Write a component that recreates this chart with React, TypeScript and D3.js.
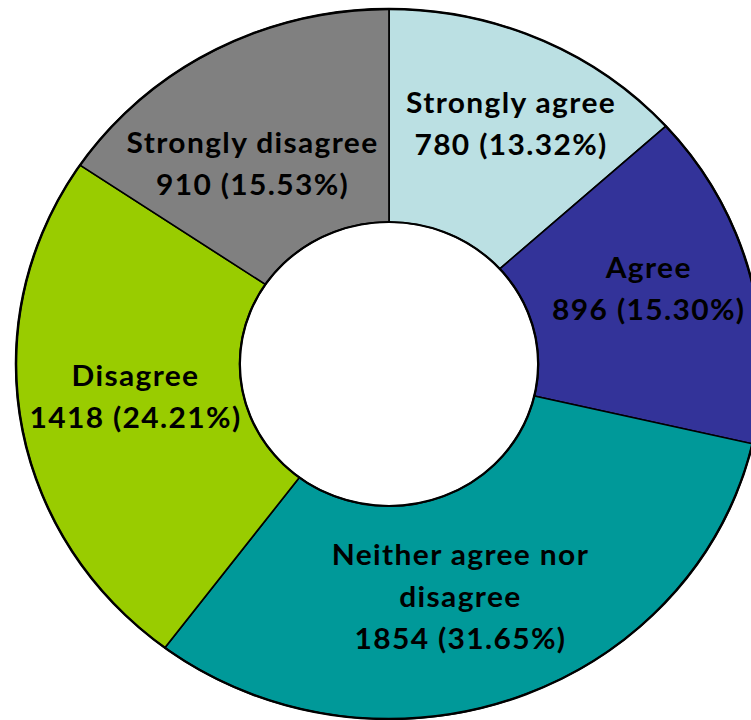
import React from "react";
import * as d3 from "d3";

const categories = ["Strongly agree", "Agree", "Neither agree nor disagree", "Disagree", "Strongly disagree"];
const values = [780, 896, 1854, 1418, 910];
const percents = ["13.32%", "15.30%", "31.65%", "24.21%", "15.53%"];
const labelLines = [
  ["Strongly agree"],
  ["Agree"],
  ["Neither agree nor", "disagree"],
  ["Disagree"],
  ["Strongly disagree"],
];
const colors = ["#BBE0E3", "#333399", "#009999", "#99CC00", "#808080"];

// label nudges (screen px) from the ring's mid-radius centroid
const labelNudge: [number, number][] = [
  [16, -13],
  [7, -13],
  [-18, 0],
  [4, -8],
  [-14, 20],
];

const W = 751;
const H = 720;
const CX = 389;
const CY = 364;
const R = 355;
const R_IN = 142;
const SX = 1.0507;
const FONT = 28.5;
const LINE_H = 42;

export default function App() {
  const pie = d3.pie<number>().sort(null).value((d) => d)(values);
  const arc = d3.arc<d3.PieArcDatum<number>>().innerRadius(R_IN).outerRadius(R);
  const labelArc = d3
    .arc<d3.PieArcDatum<number>>()
    .innerRadius(R * 0.7)
    .outerRadius(R * 0.7);

  return (
    <svg
      width={W}
      height={H}
      style={{ position: "absolute", left: 0, top: 0, display: "block" }}
    >
      <rect width={W} height={H} fill="#fff" />
      <g transform={`translate(${CX},${CY}) scale(${SX},1)`}>
        {pie.map((p, i) => (
          <path
            key={categories[i]}
            d={arc(p) || ""}
            fill={colors[i]}
            stroke="#000"
            strokeWidth={1.6}
            strokeLinejoin="round"
          />
        ))}
        <circle r={R} fill="none" stroke="#000" strokeWidth={2.4} />
        <circle r={R_IN} fill="none" stroke="#000" strokeWidth={2.2} />
        {pie.map((p, i) => {
          const [cx, cy] = labelArc.centroid(p);
          const x = cx + labelNudge[i][0] / SX;
          const y = cy + labelNudge[i][1];
          const lines = [...labelLines[i], `${values[i]} (${percents[i]})`];
          const blockH = (lines.length - 1) * LINE_H;
          return (
            <text
              key={"l" + i}
              x={x}
              y={y - blockH / 2}
              textAnchor="middle"
              fontFamily="Lato, 'Noto Sans', sans-serif"
              fontWeight="bold"
              fontSize={FONT}
              letterSpacing={1.3}
              fill="#000"
            >
              {lines.map((t, j) => (
                <tspan key={j} x={x} y={y - blockH / 2 + j * LINE_H} dy="0.35em">
                  {t}
                </tspan>
              ))}
            </text>
          );
        })}
      </g>
    </svg>
  );
}
